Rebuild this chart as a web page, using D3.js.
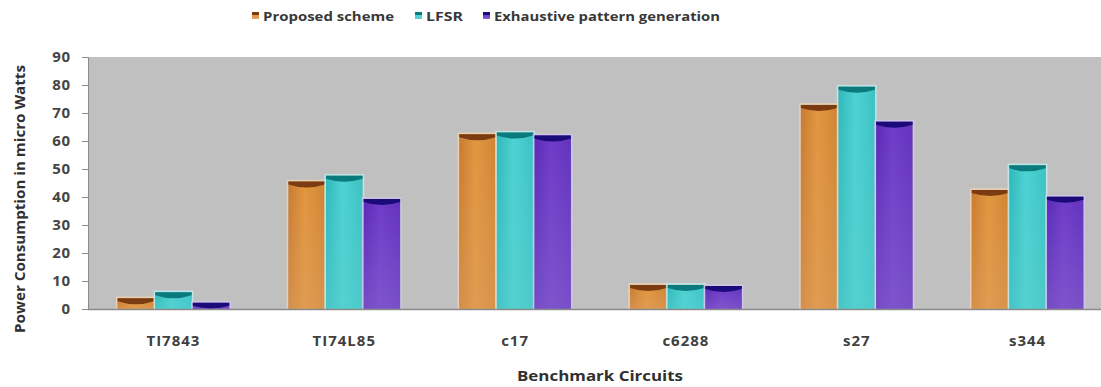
<!DOCTYPE html>
<html><head><meta charset="utf-8">
<script src="https://cdn.jsdelivr.net/npm/d3@7/dist/d3.min.js"></script>
<style>body{margin:0;background:#fff}svg{display:block}</style>
</head><body>
<svg id="c" width="1101" height="387"></svg>
<script>
const categories = ["TI7843","TI74L85","c17","c6288","s27","s344"];
const seriesNames = ["Proposed scheme","LFSR","Exhaustive pattern generation"];
const proposed = [3.8, 45.5, 62.4, 8.6, 72.9, 42.5];
const lfsr = [6.0, 47.6, 63.0, 8.6, 79.4, 51.3];
const exhaustive = [2.2, 39.3, 62.0, 8.2, 66.9, 40.1];
const yTicks = [0,10,20,30,40,50,60,70,80,90];

const series = [proposed, lfsr, exhaustive];
const palette = [
  {l:"#C97A30", m:"#E1973F", r:"#D08434", bot:"#DFA060", cap:"#7A3C10", halo:"#F2D2B0"},
  {l:"#2FB8BA", m:"#4ED2D2", r:"#3CC2C4", bot:"#5ACFCF", cap:"#0B7A7C", halo:"#BFEDEE"},
  {l:"#5A2AB8", m:"#6E3CC8", r:"#6232BE", bot:"#8C68D0", cap:"#1A0A7A", halo:"#D2C6EE"}
];
const FONT = "'Open Sans', sans-serif";

const svg = d3.select("#c");
const m = {l:88, t:57, r:1113, b:309};
const x0 = d3.scaleBand().domain(categories).range([m.l, m.r]).paddingInner(0.333).paddingOuter(0.1667);
const x1 = d3.scaleBand().domain(d3.range(3)).range([0, x0.bandwidth()]).padding(0.03);
const y = d3.scaleLinear().domain([0,90]).range([m.b, m.t]);

const defs = svg.append("defs");
palette.forEach((p,i)=>{
  const g = defs.append("linearGradient").attr("id","gh"+i).attr("x1","0").attr("x2","1").attr("y1","0").attr("y2","0");
  g.append("stop").attr("offset","0").attr("stop-color",p.l);
  g.append("stop").attr("offset","0.45").attr("stop-color",p.m);
  g.append("stop").attr("offset","1").attr("stop-color",p.r);
  const gv = defs.append("linearGradient").attr("id","gv"+i).attr("x1","0").attr("x2","0").attr("y1","0").attr("y2","1");
  gv.append("stop").attr("offset","0").attr("stop-color",p.bot).attr("stop-opacity",0);
  gv.append("stop").attr("offset","1").attr("stop-color",p.bot).attr("stop-opacity",0.55);
  const gl = defs.append("linearGradient").attr("id","gl"+i).attr("x1","0").attr("x2","0").attr("y1","0").attr("y2","1");
  gl.append("stop").attr("offset","0").attr("stop-color",p.cap);
  gl.append("stop").attr("offset","0.4").attr("stop-color",p.cap);
  gl.append("stop").attr("offset","0.5").attr("stop-color",p.m);
  gl.append("stop").attr("offset","1").attr("stop-color",p.bot);
});

// plot background
svg.append("rect").attr("x",m.l).attr("y",m.t).attr("width",m.r-m.l).attr("height",m.b-m.t).attr("fill","#C0C0C0");

// bars
const groups = svg.append("g").selectAll("g").data(categories).join("g")
  .attr("transform",d=>`translate(${x0(d)},0)`);
series.forEach((s,si)=>{
  const p = palette[si];
  groups.each(function(c,ci){
    const g = d3.select(this);
    const v = s[ci];
    const bx = x1(si), bw = x1.bandwidth(), yt = y(v), h = y(0)-yt;
    g.append("rect").attr("x",bx-1).attr("y",yt-1).attr("width",bw+2).attr("height",h+1)
      .attr("fill","none").attr("stroke",p.halo).attr("stroke-width",1.5).attr("opacity",0.8);
    g.append("rect").attr("x",bx).attr("y",yt).attr("width",bw).attr("height",h).attr("fill",`url(#gh${si})`);
    g.append("rect").attr("x",bx).attr("y",yt).attr("width",bw).attr("height",h).attr("fill",`url(#gv${si})`);
    const capH = Math.min(3, h);
    const dip = Math.min(7, h);
    g.append("path")
      .attr("d",`M${bx},${yt} L${bx+bw},${yt} L${bx+bw},${yt+capH} Q${bx+bw/2},${yt+dip+2} ${bx},${yt+capH} Z`)
      .attr("fill",p.cap);
  });
});

// axes
svg.append("line").attr("x1",m.l).attr("x2",m.r).attr("y1",m.b+0.5).attr("y2",m.b+0.5).attr("stroke","#8A8A8A").attr("stroke-width",1.5);
const ya = svg.append("g").attr("transform",`translate(${m.l},0)`)
  .call(d3.axisLeft(y).tickValues(yTicks).tickSize(6).tickPadding(11));
ya.select(".domain").attr("stroke","#8A8A8A");
ya.selectAll(".tick line").attr("stroke","#8A8A8A");
ya.selectAll("text").attr("font-family",FONT).attr("font-weight","bold")
  .attr("font-size","15px").attr("letter-spacing","0.8px").attr("fill","#454545");

const xl = svg.append("g").selectAll("text").data(categories).join("text")
  .attr("x",d=>x0(d)+x0.bandwidth()/2).attr("y",346).attr("text-anchor","middle")
  .attr("font-family",FONT).attr("font-weight","bold").attr("font-size","15px")
  .attr("letter-spacing","1px").attr("fill","#404040").text(d=>d);

svg.append("text").attr("x",600).attr("y",381).attr("text-anchor","middle")
  .attr("font-family",FONT).attr("font-weight","bold").attr("font-size","14px")
  .attr("fill","#303030").attr("textLength",166).attr("lengthAdjust","spacingAndGlyphs").text("Benchmark Circuits");

svg.append("text").attr("transform","translate(25,199) rotate(-90)").attr("text-anchor","middle")
  .attr("font-family","'Liberation Sans Narrow', 'Open Sans', sans-serif").attr("font-weight","bold").attr("font-size","15px")
  .attr("fill","#303030").attr("textLength",268).attr("lengthAdjust","spacingAndGlyphs")
  .text("Power Consumption in micro Watts");

// legend
const legX = [252, 415, 483];
const legW = [131, 37, 226];
seriesNames.forEach((n,i)=>{
  svg.append("rect").attr("x",legX[i]).attr("y",12).attr("width",7).attr("height",7).attr("fill",`url(#gl${i})`);
  svg.append("text").attr("x",legX[i]+11).attr("y",21)
    .attr("font-family",FONT).attr("font-weight","bold").attr("font-size","13px")
    .attr("fill","#383838").attr("textLength",legW[i]).attr("lengthAdjust","spacingAndGlyphs").text(n);
});
</script>
</body></html>
